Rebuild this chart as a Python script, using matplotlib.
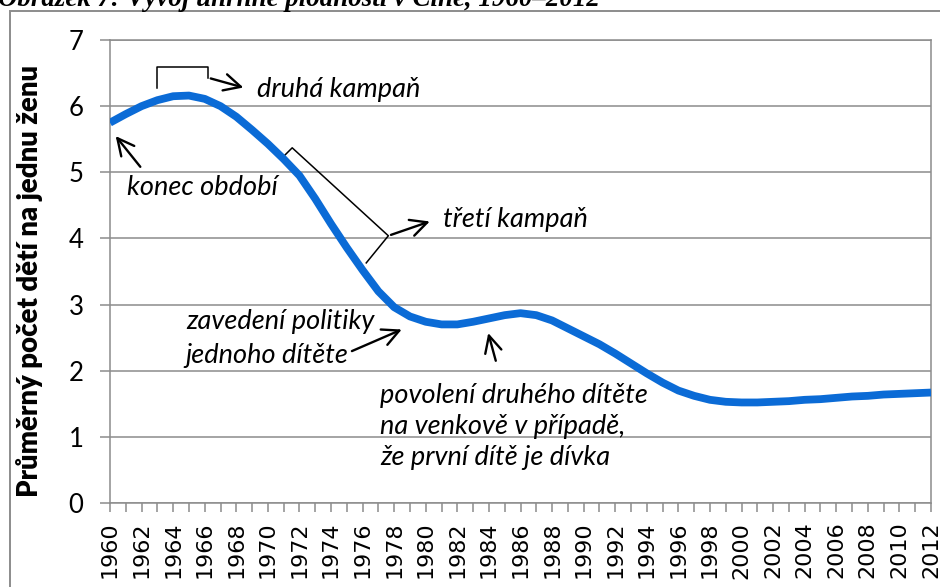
import matplotlib.pyplot as plt
from matplotlib.patches import Rectangle

years = list(range(1960, 2013))
fertility = [5.75, 5.88, 6.00, 6.09, 6.15, 6.16, 6.11, 6.00, 5.84, 5.64,
             5.43, 5.20, 4.95, 4.60, 4.22, 3.86, 3.52, 3.20, 2.96, 2.82,
             2.74, 2.70, 2.70, 2.74, 2.79, 2.84, 2.87, 2.84, 2.76, 2.64,
             2.52, 2.40, 2.26, 2.11, 1.96, 1.82, 1.70, 1.62, 1.56, 1.53,
             1.52, 1.52, 1.53, 1.54, 1.56, 1.57, 1.59, 1.61, 1.62, 1.64,
             1.65, 1.66, 1.67]
year_labels = [str(y) for y in years[::2]]

caption = 'Obrázek 7: Vývoj úhrnné plodnosti v Číně, 1960–2012'
ylabel = 'Průměrný počet dětí na jednu ženu'

plt.rcParams['font.family'] = ['Lato', 'DejaVu Sans']

fig = plt.figure(figsize=(9.4, 5.87), dpi=100)
ax = fig.add_axes([110 / 940, 1 - 503 / 587, (931 - 110) / 940, (503 - 40) / 587])

grey = '#8c8c8c'
ax.plot(years, fertility, color='#0B6BD6', lw=5.6, solid_capstyle='butt', zorder=3)

ax.set_xlim(1960, 2012)
ax.set_ylim(0, 7)
ax.set_yticks(range(0, 8))
ax.set_xticks(years, minor=True)
ax.set_xticks(years[::2])
ax.set_xticklabels(year_labels, rotation=90, fontsize=16, family='DejaVu Sans')
ax.tick_params(axis='y', labelsize=18.5, length=7, width=1.1, color=grey, pad=12)
ax.tick_params(axis='x', which='both', length=6.5, width=1.1, color=grey, pad=7)
ax.grid(axis='y', color=grey, lw=1.1)
for s in ax.spines.values():
    s.set_color(grey)
    s.set_linewidth(1.1)
ax.set_ylabel(ylabel, fontsize=19.8, fontweight='heavy')
ax.yaxis.set_label_coords(-0.081, 0.48)

# annotations
akw = dict(arrowstyle='->', color='black', lw=1.7, mutation_scale=30)
it = dict(fontsize=19.5, style='italic', color='black')

ax.annotate('', xy=(1960.25, 5.58), xytext=(1962.03, 5.05), arrowprops=akw)
ax.text(1961.1, 4.77, 'konec období', va='center', ha='left', **it)

ax.plot([1962.98, 1962.98, 1966.21, 1966.21], [6.27, 6.59, 6.59, 6.43],
        color='black', lw=1.1, clip_on=False)
ax.annotate('', xy=(1968.62, 6.27), xytext=(1966.21, 6.43), arrowprops=akw)
ax.text(1969.3, 6.25, 'druhá kampaň', va='center', ha='left', **it)

ax.plot([1970.91, 1971.54, 1977.63, 1976.23], [5.22, 5.37, 4.04, 3.63],
        color='black', lw=1.1)
ax.annotate('', xy=(1980.42, 4.27), xytext=(1977.63, 4.04), arrowprops=akw)
ax.text(1981.1, 4.28, 'třetí kampaň', va='center', ha='left', **it)

ax.annotate('', xy=(1978.64, 2.64), xytext=(1975.16, 2.28), arrowprops=akw)
ax.text(1964.8, 2.74, 'zavedení politiky', va='center', ha='left', **it)
ax.text(1964.8, 2.23, 'jednoho dítěte', va='center', ha='left', **it)

ax.annotate('', xy=(1983.91, 2.61), xytext=(1984.48, 2.11), arrowprops=akw)
ax.text(1977.1, 1.15, 'povolení druhého dítěte\nna venkově v případě,\nže první dítě je dívka',
        va='center', ha='left', linespacing=1.3, **it)

# outer frame and cut caption
fig.patches.append(Rectangle((10 / 940, -0.1), 1.2, 1.1 - 12 / 587 + 0.001,
                             transform=fig.transFigure, fill=False,
                             edgecolor=grey, lw=1.4))
fig.text(-0.002, 1 - 6 / 587, caption, fontsize=19.4, fontweight='bold',
         style='italic', family='Liberation Serif', va='baseline', ha='left')

fig.savefig('out.png', dpi=100)
